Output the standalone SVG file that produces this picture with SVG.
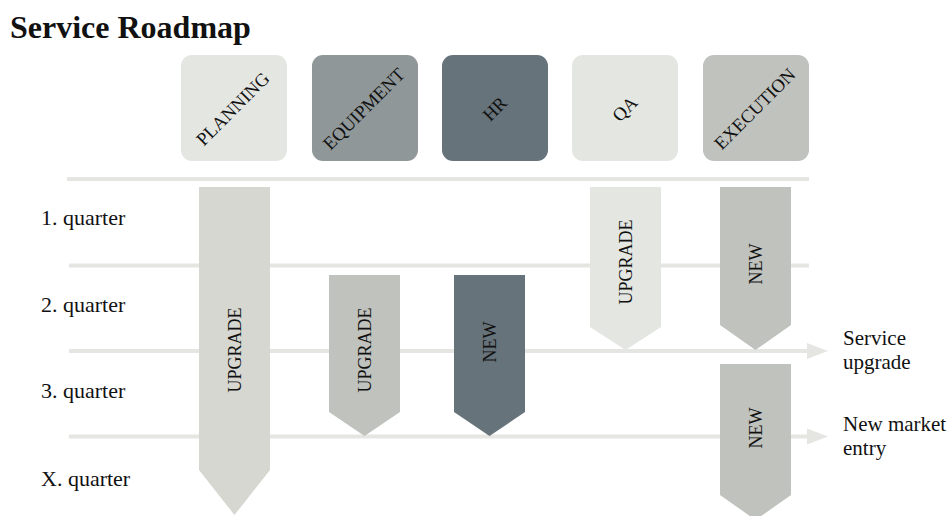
<svg xmlns="http://www.w3.org/2000/svg" width="951" height="516" viewBox="0 0 951 516">
  <style>
    .title { font-family: "Liberation Serif", serif; font-weight: bold; font-size: 32px; fill: #111; }
    .hdr { font-family: "Liberation Serif", serif; font-size: 18.5px; fill: #111; text-anchor: middle; dominant-baseline: central; }
    .lbl { font-family: "Liberation Serif", serif; font-size: 18px; fill: #111; text-anchor: middle; dominant-baseline: central; }
    .q { font-family: "Liberation Serif", serif; font-size: 22px; fill: #111; }
    .side { font-family: "Liberation Serif", serif; font-size: 21px; fill: #111; }
    .line { stroke: #e5e6e2; stroke-width: 4; fill: none; }
    .c1 { fill: #e4e6e1; }
    .c2 { fill: #8f9798; }
    .c3 { fill: #67737a; }
    .c4 { fill: #c0c2bd; }
    .c5 { fill: #d5d7d0; }
  </style>
  <defs>
    <marker id="ah" markerUnits="userSpaceOnUse" markerWidth="22" markerHeight="18" refX="0" refY="9" orient="auto">
      <path d="M0,1 L21,9 L0,17 z" fill="#e5e6e2"/>
    </marker>
  </defs>
  <rect width="951" height="516" fill="#ffffff"/>
  <text class="title" x="10" y="38">Service Roadmap</text>

  <g id="connectors">
    <line class="line" x1="67" y1="179" x2="809" y2="179"/>
    <line class="line" x1="69" y1="265.5" x2="809" y2="265.5"/>
    <line class="line" x1="69" y1="351" x2="807" y2="351" marker-end="url(#ah)"/>
    <line class="line" x1="69" y1="436.5" x2="807" y2="436.5" marker-end="url(#ah)"/>
  </g>

  <g id="hdr-planning">
    <rect class="c1" x="181" y="55" width="106" height="106" rx="11"/>
    <text class="hdr" transform="translate(233 109) rotate(-45)">PLANNING</text>
  </g>
  <g id="hdr-equipment">
    <rect class="c2" x="312" y="55" width="106" height="106" rx="11"/>
    <text class="hdr" transform="translate(364 109) rotate(-45)">EQUIPMENT</text>
  </g>
  <g id="hdr-hr">
    <rect class="c3" x="442" y="55" width="106" height="106" rx="11"/>
    <text class="hdr" transform="translate(495 109) rotate(-45)">HR</text>
  </g>
  <g id="hdr-qa">
    <rect class="c1" x="572" y="55" width="106" height="106" rx="11"/>
    <text class="hdr" transform="translate(625 109) rotate(-45)">QA</text>
  </g>
  <g id="hdr-execution">
    <rect class="c4" x="703" y="55" width="106" height="106" rx="11"/>
    <text class="hdr" transform="translate(755 109) rotate(-45)">EXECUTION</text>
  </g>

  <g id="q-labels">
    <text class="q" x="41" y="225">1. quarter</text>
    <text class="q" x="41" y="312">2. quarter</text>
    <text class="q" x="41" y="398">3. quarter</text>
    <text class="q" x="41" y="486">X. quarter</text>
  </g>

  <g id="arrow-planning">
    <polygon class="c5" points="199,187 270,187 270,470 234.5,515 199,470"/>
    <text class="lbl" transform="translate(234.5 350) rotate(-90)">UPGRADE</text>
  </g>
  <g id="arrow-equipment">
    <polygon class="c4" points="329,275 400,275 400,412 364.5,436 329,412"/>
    <text class="lbl" transform="translate(364.5 350) rotate(-90)">UPGRADE</text>
  </g>
  <g id="arrow-hr">
    <polygon class="c3" points="454,275 525,275 525,412 489.5,436 454,412"/>
    <text class="lbl" transform="translate(489.5 342) rotate(-90)">NEW</text>
  </g>
  <g id="arrow-qa">
    <polygon class="c1" points="590,187 661,187 661,327 625.5,350 590,327"/>
    <text class="lbl" transform="translate(625.5 262) rotate(-90)">UPGRADE</text>
  </g>
  <g id="arrow-exec-1">
    <polygon class="c4" points="720,187 791,187 791,325 755.5,350 720,325"/>
    <text class="lbl" transform="translate(755.5 264) rotate(-90)">NEW</text>
  </g>
  <g id="arrow-exec-2">
    <polygon class="c4" points="720,364 791,364 791,495 755.5,520 720,495"/>
    <text class="lbl" transform="translate(755.5 428) rotate(-90)">NEW</text>
  </g>

  <g id="side-labels">
    <text class="side" x="843" y="345">Service</text>
    <text class="side" x="843" y="369">upgrade</text>
    <text class="side" x="843" y="431">New market</text>
    <text class="side" x="843" y="455">entry</text>
  </g>
</svg>
